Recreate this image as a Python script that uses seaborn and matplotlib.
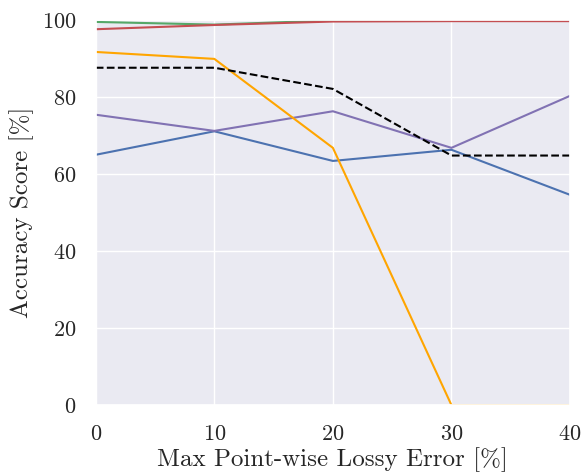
import matplotlib
matplotlib.use("Agg")
import matplotlib.pyplot as plt
import seaborn as sns
import pandas as pd

errors = [0, 10, 20, 30, 40]

acc_blue = [65.0, 71.1, 63.4, 66.3, 54.6]
acc_green = [99.5, 98.8, 99.9, 99.9, 99.9]
acc_red = [97.6, 98.7, 99.6, 99.7, 99.7]
acc_purple = [75.4, 71.2, 76.3, 66.8, 80.3]
acc_orange = [91.7, 89.9, 66.8, 0.0, 0.0]
acc_mean = [87.6, 87.6, 82.1, 64.8, 64.8]

sns.set_theme(style="darkgrid")
plt.rcParams["font.family"] = "serif"
plt.rcParams["font.serif"] = ["cmr10", "DejaVu Serif"]
plt.rcParams["mathtext.fontset"] = "cm"
plt.rcParams["axes.formatter.use_mathtext"] = True

fig, ax = plt.subplots(figsize=(5.84, 4.76), dpi=100)
fig.subplots_adjust(left=0.164, right=0.976, top=0.958, bottom=0.149)

deep = sns.color_palette("deep")
series = [
    (acc_blue, deep[0], "-"),
    (acc_green, deep[2], "-"),
    (acc_red, deep[3], "-"),
    (acc_purple, deep[4], "-"),
    (acc_orange, "orange", "-"),
    (acc_mean, "black", "--"),
]
for vals, col, ls in series:
    df = pd.DataFrame({"err": errors, "acc": vals})
    sns.lineplot(data=df, x="err", y="acc", color=col, linestyle=ls, lw=1.5, ax=ax)

ax.set_xlim(0, 40)
ax.set_ylim(0, 100)
ax.set_xticks([0, 10, 20, 30, 40])
ax.set_yticks([0, 20, 40, 60, 80, 100])
ax.tick_params(labelsize=16, pad=8)
ax.set_xlabel("Max Point-wise Lossy Error [%]", fontsize=18, labelpad=2)
ax.set_ylabel("Accuracy Score [%]", fontsize=18, labelpad=6)

fig.savefig("out.png", dpi=100)
